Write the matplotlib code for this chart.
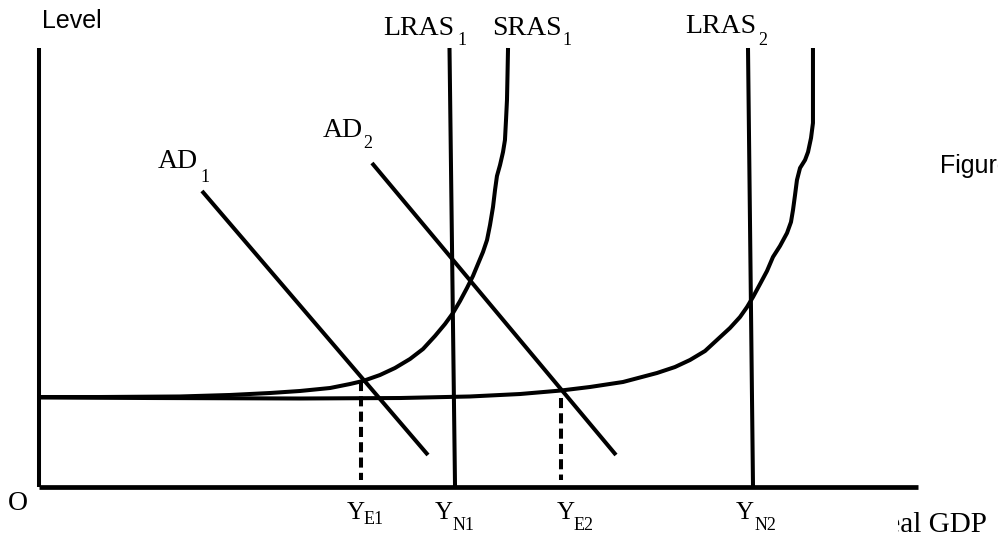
import matplotlib
matplotlib.use("Agg")
import matplotlib.pyplot as plt
from matplotlib.transforms import Bbox, TransformedBbox

# ---- data (real GDP on x, price level on y, both in 0..100 diagram units) ----
sras1_x = [0, 6.94, 16.04, 21.73, 26.28, 29.69, 33.11, 35.38, 36.86, 38.79, 40.50,
           42.21, 43.69, 45.05, 46.19, 47.10, 47.90, 48.69, 49.37, 49.94, 50.51,
           50.97, 51.31, 51.65, 51.88, 52.10, 52.45, 52.79, 53.01, 53.13, 53.24,
           53.30, 53.36]
sras1_y = [20.50, 20.50, 20.62, 20.96, 21.41, 21.87, 22.55, 23.46, 24.15, 25.51, 27.11,
           29.16, 31.44, 34.40, 37.13, 39.64, 42.37, 45.33, 48.06, 50.80, 53.53,
           56.26, 59.68, 63.78, 67.65, 70.84, 73.35, 76.31, 79.04, 83.60, 88.15,
           93.85, 100.0]

sras2_x = [0, 12.63, 29.69, 41.07, 49.03, 54.72, 59.39, 62.68, 66.44, 70.31, 72.35,
           74.06, 75.77, 77.13, 78.61, 79.75, 80.55, 81.23, 82.03, 82.82, 83.50,
           84.30, 85.10, 85.55, 85.78, 86.01, 86.23, 86.58, 87.15, 87.49, 87.83,
           88.05, 88.05, 88.05]
sras2_y = [20.39, 20.27, 20.16, 20.27, 20.62, 21.18, 21.98, 22.78, 23.92, 25.97, 27.33,
           28.93, 30.98, 33.49, 36.22, 38.72, 41.00, 43.28, 46.24, 49.20, 52.39,
           54.90, 57.86, 60.36, 63.10, 66.51, 69.93, 72.67, 74.49, 76.31, 79.50,
           82.92, 90.43, 100.0]

lras1_x = [46.70, 47.33]
lras1_y = [100.0, 0.0]
lras2_x = [80.66, 81.23]
lras2_y = [100.0, 0.0]

ad1_x = [18.54, 44.25]
ad1_y = [67.43, 7.29]
ad2_x = [37.88, 65.64]
ad2_y = [73.80, 7.29]

ye1_x = [36.63, 36.63]
ye1_y = [24.15, 1.6]
ye2_x = [59.39, 59.39]
ye2_y = [20.27, 1.6]

W, H = 998, 546
fig = plt.figure(figsize=(W / 100, H / 100), dpi=100)
fig.patch.set_facecolor("white")
ax = fig.add_axes([39 / W, 59 / H, 879 / W, 439 / H])
ax.set_xlim(0, 100)
ax.set_ylim(0, 100)
ax.axis("off")

lw = 2.9
kw = dict(color="black", lw=lw, solid_capstyle="butt", clip_on=False)
# axes
ax.plot([0, 0], [0, 100], **kw)
ax.plot([0, 100], [0, 0], color="black", lw=3.4, solid_capstyle="butt", clip_on=False)
# curves
ax.plot(sras1_x, sras1_y, solid_joinstyle="round", **kw)
ax.plot(sras2_x, sras2_y, solid_joinstyle="round", **kw)
ax.plot(lras1_x, lras1_y, **kw)
ax.plot(lras2_x, lras2_y, **kw)
ax.plot(ad1_x, ad1_y, **kw)
ax.plot(ad2_x, ad2_y, **kw)
ax.plot(ye1_x, ye1_y, color="black", lw=lw, linestyle=(0, (2.5, 1.3)), clip_on=False)
ax.plot(ye2_x, ye2_y, color="black", lw=lw, linestyle=(0, (2.5, 1.3)), clip_on=False)

SERIF = "Liberation Serif"
SANS = "Liberation Sans"


def t(px, py, s, size, family=SERIF, ha="left"):
    return fig.text(px / W, 1 - py / H, s, fontsize=size, family=family,
                    ha=ha, va="baseline", color="black")


t(42, 28, "Level", 18, SANS)
t(940, 173, "Figure", 18, SANS)

t(383, 35, "LRAS", 20); t(457, 45, "1", 13)
t(492, 35, "SRAS", 20); t(562, 45, "1", 13)
t(685, 33, "LRAS", 20); t(758, 45, "2", 13)
t(323, 137, "AD", 20); t(363, 148, "2", 13)
t(158, 168, "AD", 20); t(200, 182, "1", 13)

t(8, 510, "O", 20)
t(347, 519, "Y", 18); t(364, 524, "E1", 13)
t(435, 519, "Y", 18); t(453, 530, "N1", 13)
t(557, 519, "Y", 18); t(574, 530, "E2", 13)
t(736, 519, "Y", 18); t(755, 530, "N2", 13)

rg = t(987, 532, "Real GDP", 21, ha="right")
rg.set_clip_box(TransformedBbox(Bbox([[898 / W, 0], [1, 1]]), fig.transFigure))
rg.set_clip_on(True)

fig.savefig("out.png", dpi=100, facecolor="white")
